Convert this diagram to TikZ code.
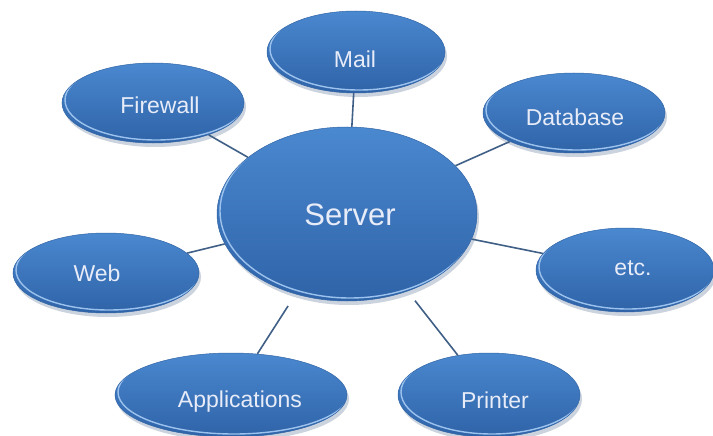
\documentclass[tikz,border=0pt]{standalone}
\usepackage{fontspec}
\setmainfont{Liberation Sans}
\usetikzlibrary{shapes.geometric,calc}
\definecolor{bubtop}{HTML}{4A88CF}
\definecolor{bubbot}{HTML}{2F63A8}
\definecolor{bubedge}{HTML}{3265A6}
\definecolor{rimc}{HTML}{9CC2EE}
\definecolor{shadowc}{HTML}{CBD3DE}
\definecolor{txt}{HTML}{E8ECF8}
\definecolor{linkc}{HTML}{3F5F86}
\tikzset{
  bubble/.style={ellipse, inner sep=0pt, top color=bubtop, bottom color=bubbot,
    draw=bubedge, line width=0.5pt},
  rim/.style={draw=rimc, line width=1.4pt},
  link/.style={draw=linkc, line width=1.6pt},
  smalltext/.style={font=\fontsize{23}{27}\selectfont},
  bigtext/.style={font=\fontsize{31}{36}\selectfont},
}
% name, x, y, rx, ry, text, dx, dy, text style
\newcommand\bub[9]{%
  \fill[shadowc] ({#2+2},{#3+4}) ellipse [x radius=#4, y radius=#5];
  \node[bubble, minimum width={2*#4}, minimum height={2*#5},
    path picture={\draw[rim] ($(path picture bounding box.center)+(3,-3)$) ellipse [x radius=#4, y radius=#5];},
    label={[#9, text=txt, inner sep=0pt, xshift=#7pt, yshift=-#8pt]center:#6}]
    (#1) at (#2,#3) {};}
\begin{document}
\begin{tikzpicture}[x=1pt,y=-1pt]
\useasboundingbox (0,0) rectangle (713,436);
\bub{server}{347}{214}{130}{87}{Server}{3}{1}{bigtext}
\bub{mail}{356}{52}{89}{41}{Mail}{-1}{7}{smalltext}
\bub{firewall}{153}{103}{91}{40}{Firewall}{7}{2}{smalltext}
\bub{database}{574}{113}{91}{40}{Database}{1}{4}{smalltext}
\bub{web}{106}{273}{93}{40}{Web}{-9}{0}{smalltext}
\bub{etc}{625}{270}{89}{42}{etc.}{8}{-2}{smalltext}
\bub{apps}{231}{395}{116}{42}{Applications}{9}{7}{smalltext}
\bub{printer}{489}{395}{91}{42}{Printer}{6}{5}{smalltext}
\draw[link] (server) -- (mail);
\draw[link] (server) -- (firewall);
\draw[link] (server) -- (database);
\draw[link] (server) -- (web);
\draw[link] (server) -- (etc);
\draw[link, shorten <=14pt] (server) -- (apps);
\draw[link, shorten <=12pt] (server) -- (printer);
\end{tikzpicture}
\end{document}
